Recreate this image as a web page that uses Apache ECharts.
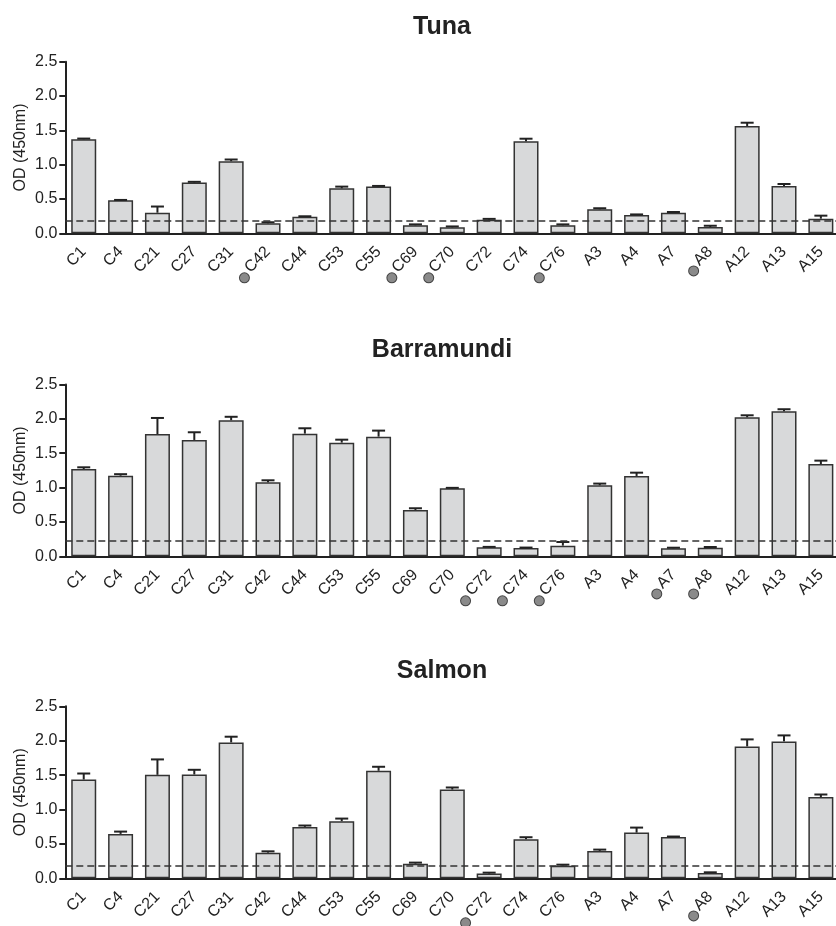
<!DOCTYPE html>
<html>
<head>
<meta charset="utf-8">
<script src="https://cdn.jsdelivr.net/npm/echarts@6/dist/echarts.min.js"></script>
<style>
html,body{margin:0;padding:0;background:#fff;}
#chart{width:836px;height:926px;}
</style>
</head>
<body>
<div id="chart"></div>
<script>
const categories = ['C1','C4','C21','C27','C31','C42','C44','C53','C55','C69','C70','C72','C74','C76','A3','A4','A7','A8','A12','A13','A15'];
const panelTitles = ['Tuna','Barramundi','Salmon'];
const yTickLabels = ['0.0','0.5','1.0','1.5','2.0','2.5'];

const tunaMean = [1.37,0.48,0.30,0.74,1.05,0.146,0.242,0.655,0.68,0.117,0.087,0.198,1.34,0.117,0.35,0.267,0.30,0.092,1.563,0.689,0.213];
const tunaErr  = [0.01,0.006,0.09,0.01,0.025,0.015,0.006,0.025,0.01,0.013,0.013,0.012,0.038,0.013,0.015,0.008,0.01,0.018,0.048,0.029,0.044];
const tunaCutoff = 0.19;
const tunaMarked = ['C42','C69','C70','C76','A8'];

const barraMean = [1.27,1.173,1.78,1.693,1.98,1.077,1.785,1.654,1.741,0.674,0.99,0.131,0.121,0.155,1.033,1.169,0.116,0.126,2.023,2.11,1.343];
const barraErr  = [0.025,0.022,0.233,0.112,0.05,0.029,0.078,0.043,0.088,0.025,0.006,0.006,0.006,0.053,0.025,0.048,0.009,0.009,0.029,0.03,0.049];
const barraCutoff = 0.233;
const barraMarked = ['C72','C74','C76','A7','A8'];

const salmonMean = [1.436,0.645,1.504,1.509,1.975,0.373,0.747,0.83,1.563,0.213,1.29,0.068,0.568,0.184,0.398,0.664,0.601,0.077,1.917,1.99,1.18];
const salmonErr  = [0.087,0.034,0.224,0.068,0.083,0.019,0.02,0.038,0.058,0.015,0.03,0.014,0.029,0.014,0.019,0.073,0.006,0.01,0.102,0.087,0.038];
const salmonCutoff = 0.179;
const salmonMarked = ['C72','A8'];

const panels = [
  {mean: tunaMean, err: tunaErr, cutoff: tunaCutoff, marked: tunaMarked},
  {mean: barraMean, err: barraErr, cutoff: barraCutoff, marked: barraMarked},
  {mean: salmonMean, err: salmonErr, cutoff: salmonCutoff, marked: salmonMarked}
];

const FONT = 'Liberation Sans, Arial, sans-serif';
const TXT = '#222';
const gridTops = [61.7, 384.5, 706.3];
const gridH = [171.6, 171.8, 172];
const titleTops = [10, 333, 654];

const option = {
  animation: false,
  backgroundColor: '#fff',
  title: [], grid: [], xAxis: [], yAxis: [], series: []
};

panels.forEach((p, i) => {
  option.title.push({
    text: panelTitles[i], left: 437, top: titleTops[i], textAlign: 'center',
    textStyle: {fontFamily: FONT, fontSize: 25, fontWeight: 'bold', color: TXT}
  });
  option.grid.push({left: 65.3, top: gridTops[i], width: 774, height: gridH[i], containLabel: false, outerBoundsMode: 'none'});
  const marked = p.marked;
  option.xAxis.push({
    type: 'category', gridIndex: i, data: categories, boundaryGap: true,
    axisLine: {lineStyle: {color: TXT, width: 2}},
    axisTick: {alignWithLabel: true, length: 6, interval: 0, lineStyle: {color: TXT, width: 2}},
    axisLabel: {
      interval: 0, rotate: 45, margin: 16, fontFamily: FONT, fontSize: 16, color: TXT,
      formatter: v => marked.indexOf(v) >= 0 ? '{d| }{s|}' + v : v,
      rich: {
        d: {width: 9, height: 9, borderRadius: 4.5, backgroundColor: '#8a8a8a', borderColor: '#444', borderWidth: 1, verticalAlign: 'bottom', padding: 0},
        s: {width: 3}
      }
    },
    splitLine: {show: false}
  });
  option.yAxis.push({
    type: 'value', gridIndex: i, min: 0, max: 2.5, interval: 0.5,
    name: 'OD (450nm)', nameLocation: 'middle', nameGap: 37, nameMoveOverlap: false,
    nameTextStyle: {fontFamily: FONT, fontSize: 16, color: TXT},
    axisLine: {show: true, lineStyle: {color: TXT, width: 2}},
    axisTick: {show: true, length: 6, lineStyle: {color: TXT, width: 2}},
    axisLabel: {margin: 8, fontFamily: FONT, fontSize: 16, color: TXT,
      formatter: v => yTickLabels[Math.round(v / 0.5)]},
    splitLine: {show: false}
  });
  option.series.push({
    type: 'bar', xAxisIndex: i, yAxisIndex: i, data: p.mean, barWidth: 25,
    itemStyle: {color: '#d8d9da', borderColor: '#333', borderWidth: 1.5},
    markLine: {
      silent: true, symbol: 'none', label: {show: false},
      lineStyle: {type: [7, 4], color: '#333', width: 1.5},
      data: [{yAxis: p.cutoff}]
    },
    z: 2
  });
  option.series.push({
    type: 'custom', xAxisIndex: i, yAxisIndex: i,
    data: p.mean.map((m, k) => [k, m, m + p.err[k]]),
    renderItem: (params, api) => {
      const lo = api.coord([api.value(0), api.value(1)]);
      const hi = api.coord([api.value(0), api.value(2)]);
      const st = {stroke: '#222', lineWidth: 2};
      return {type: 'group', children: [
        {type: 'line', shape: {x1: lo[0], y1: lo[1], x2: hi[0], y2: hi[1]}, style: st},
        {type: 'line', shape: {x1: hi[0] - 6.5, y1: hi[1], x2: hi[0] + 6.5, y2: hi[1]}, style: st}
      ]};
    },
    z: 3
  });
});

const chart = echarts.init(document.getElementById('chart'), null, {renderer: 'canvas'});
chart.setOption(option);
</script>
</body>
</html>
